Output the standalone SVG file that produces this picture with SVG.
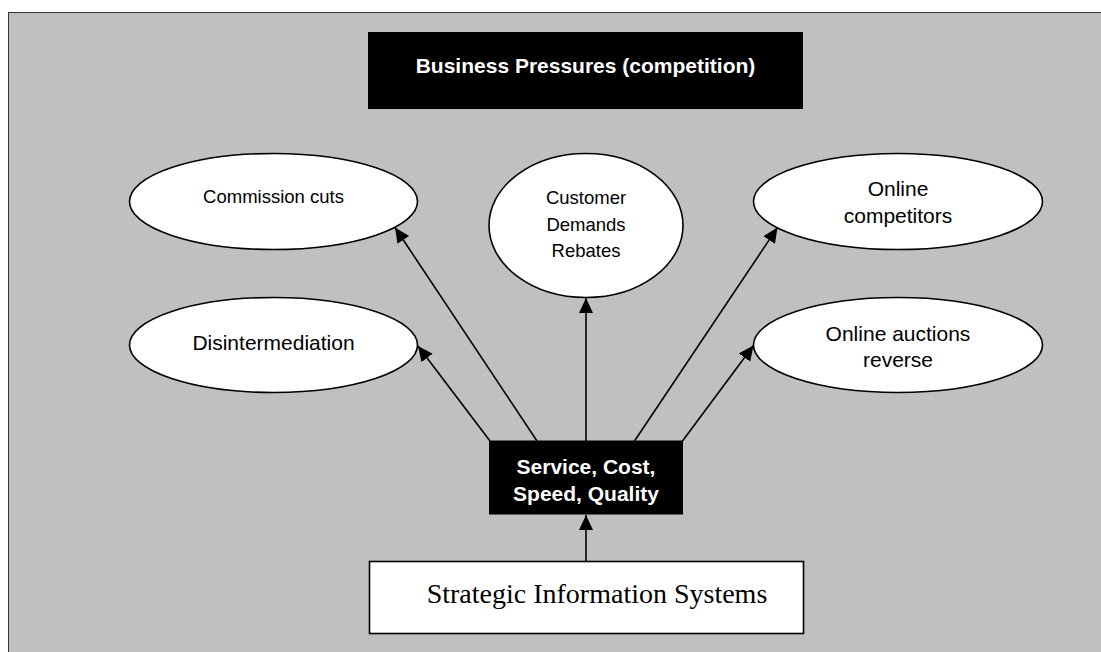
<svg xmlns="http://www.w3.org/2000/svg" width="1101" height="652" viewBox="0 0 1101 652">
<style>
.ell{fill:#fff;stroke:#000;stroke-width:1.6}
.t{font-family:"Liberation Sans",Arial,sans-serif;fill:#000;text-anchor:middle}
.s{font-size:18.5px}
.m{font-size:21px}
.b{font-family:"Liberation Sans",Arial,sans-serif;font-weight:bold;font-size:21px;fill:#fff;text-anchor:middle}
.c{stroke:#000;stroke-width:1.6;fill:none}
</style>
<defs>
<marker id="ah" markerUnits="userSpaceOnUse" markerWidth="16" markerHeight="16" refX="15" refY="7" orient="auto">
<path d="M0,0 L15,7 L0,14 Z" fill="#000"/>
</marker>
</defs>
<rect x="0" y="0" width="1101" height="652" fill="#fff"/>
<rect id="frame" x="8.5" y="12.5" width="1110" height="660" fill="#c0c0c0" stroke="#333" stroke-width="1"/>
<g id="title">
<rect x="368" y="32" width="435" height="77" fill="#000"/>
<text class="b" x="585.5" y="73">Business Pressures (competition)</text>
</g>
<g id="commission">
<ellipse class="ell" cx="273.5" cy="201.5" rx="144" ry="48"/>
<text class="t s" x="273.5" y="203">Commission cuts</text>
</g>
<g id="customer">
<ellipse class="ell" cx="586" cy="225.5" rx="97" ry="72"/>
<text class="t s" x="586" y="204">Customer</text>
<text class="t s" x="586" y="230.5">Demands</text>
<text class="t s" x="586" y="257">Rebates</text>
</g>
<g id="competitors">
<ellipse class="ell" cx="898" cy="201.5" rx="144.5" ry="48"/>
<text class="t m" x="898" y="196">Online</text>
<text class="t m" x="898" y="222.5">competitors</text>
</g>
<g id="disintermediation">
<ellipse class="ell" cx="273.5" cy="345" rx="144" ry="47.5"/>
<text class="t m" x="273.5" y="349.5">Disintermediation</text>
</g>
<g id="auctions">
<ellipse class="ell" cx="898" cy="345" rx="144.5" ry="47.5"/>
<text class="t m" x="898" y="340.5">Online auctions</text>
<text class="t m" x="898" y="366.5">reverse</text>
</g>
<g id="factors">
<rect x="489" y="440.5" width="194" height="74" fill="#000"/>
<text class="b" x="586" y="474">Service, Cost,</text>
<text class="b" x="586" y="501">Speed, Quality</text>
</g>
<g id="sis">
<rect x="369.5" y="561.5" width="434" height="72" fill="#fff" stroke="#000" stroke-width="1.6"/>
<text x="597" y="602.5" font-family="'Liberation Serif','Times New Roman',serif" font-size="28" text-anchor="middle" fill="#000">Strategic Information Systems</text>
</g>
<g id="connectors">
<line class="c" x1="537" y1="441" x2="395" y2="227.5" marker-end="url(#ah)"/>
<line class="c" x1="490" y1="441" x2="418" y2="346" marker-end="url(#ah)"/>
<line class="c" x1="586" y1="441" x2="586" y2="298" marker-end="url(#ah)"/>
<line class="c" x1="634.5" y1="441" x2="777.5" y2="227.5" marker-end="url(#ah)"/>
<line class="c" x1="682.5" y1="441" x2="753.5" y2="345.5" marker-end="url(#ah)"/>
<line class="c" x1="586" y1="561.5" x2="586" y2="515" marker-end="url(#ah)"/>
</g>
</svg>
